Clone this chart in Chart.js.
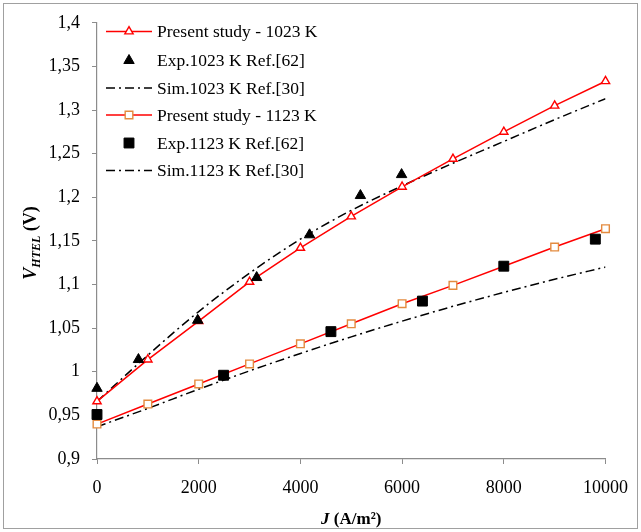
<!DOCTYPE html>
<html>
<head>
<meta charset="utf-8">
<script src="https://cdn.jsdelivr.net/npm/chart.js@4.4.0/dist/chart.umd.min.js"></script>
<style>
  html, body { margin: 0; padding: 0; background: #fff; }
  canvas { display: block; }
</style>
</head>
<body>
<canvas id="vChart" width="641" height="532"></canvas>
<script>
// current density (A/m²) of the model points
const jModel = [0, 1000, 2000, 3000, 4000, 5000, 6000, 7000, 8000, 9000, 10000];

// 1023 K
const vPresent1023 = [0.966, 1.014, 1.058, 1.103, 1.142, 1.178, 1.212, 1.244, 1.275, 1.305, 1.333];
const jExp1023 = [0, 815, 1980, 3140, 4180, 5180, 5990];
const vExp1023 = [0.981, 1.014, 1.059, 1.108, 1.157, 1.202, 1.226];
const vSim1023 = [0.966, 1.019, 1.069, 1.113, 1.152, 1.185, 1.213, 1.239, 1.264, 1.289, 1.313];

// 1123 K
const vPresent1123 = [0.940, 0.963, 0.986, 1.009, 1.032, 1.055, 1.078, 1.099, 1.121, 1.143, 1.164];
const jExp1123 = [0, 2490, 4600, 6400, 8000, 9800];
const vExp1123 = [0.951, 0.996, 1.046, 1.081, 1.121, 1.152];
const vSim1123 = [0.937, 0.958, 0.980, 1.001, 1.021, 1.040, 1.058, 1.075, 1.091, 1.106, 1.120];

const legendLabels = [
  'Present study - 1023 K',
  'Exp.1023 K Ref.[62]',
  'Sim.1023 K Ref.[30]',
  'Present study - 1123 K',
  'Exp.1123 K Ref.[62]',
  'Sim.1123 K Ref.[30]'
];

const SERIF = '"Liberation Serif", "Times New Roman", serif';
const ORANGE = '#E38B3F';
const DASHDOT = [9, 4, 2, 4];

function pts(xs, ys) {
  return xs.map((x, i) => ({ x: x, y: ys[i] }));
}

const datasets = [
  {
    label: legendLabels[0], data: pts(jModel, vPresent1023), showLine: true, order: 1,
    borderColor: '#ff0000', borderWidth: 1.5, clip: false,
    pointStyle: 'triangle', pointRadius: 4.8, pointBorderColor: '#ff0000',
    pointBackgroundColor: '#ffffff', pointBorderWidth: 1.4
  },
  {
    label: legendLabels[1], data: pts(jExp1023, vExp1023), showLine: false, order: 0, clip: false,
    pointStyle: 'triangle', pointRadius: 6, pointBorderColor: '#000',
    pointBackgroundColor: '#000', pointBorderWidth: 1
  },
  {
    label: legendLabels[2], data: pts(jModel, vSim1023), showLine: true, order: 2,
    borderColor: '#000', borderWidth: 1.5, borderDash: DASHDOT,
    cubicInterpolationMode: 'monotone', pointRadius: 0
  },
  {
    label: legendLabels[3], data: pts(jModel, vPresent1123), showLine: true, order: 1,
    borderColor: '#ff0000', borderWidth: 1.5, clip: false,
    pointStyle: 'rect', pointRadius: 5.4, pointBorderColor: ORANGE,
    pointBackgroundColor: '#ffffff', pointBorderWidth: 1.4
  },
  {
    label: legendLabels[4], data: pts(jExp1123, vExp1123), showLine: false, order: 0, clip: false,
    pointStyle: 'rect', pointRadius: 7, pointBorderColor: '#000',
    pointBackgroundColor: '#000', pointBorderWidth: 1
  },
  {
    label: legendLabels[5], data: pts(jModel, vSim1123), showLine: true, order: 2,
    borderColor: '#000', borderWidth: 1.5, borderDash: DASHDOT,
    cubicInterpolationMode: 'monotone', pointRadius: 0
  }
];

function drawRuns(ctx, runs, cx, cy) {
  let total = 0;
  runs.forEach(r => { ctx.font = r.font; total += ctx.measureText(r.text).width; });
  let x = cx - total / 2;
  runs.forEach(r => {
    ctx.font = r.font;
    ctx.fillText(r.text, x, cy + (r.dy || 0));
    x += ctx.measureText(r.text).width;
  });
}

const decorations = {
  id: 'decorations',
  beforeDraw(chart) {
    const ctx = chart.ctx;
    ctx.save();
    ctx.fillStyle = '#fff';
    ctx.fillRect(0, 0, chart.width, chart.height);
    ctx.restore();
  },
  afterDraw(chart) {
    const ctx = chart.ctx;
    const area = chart.chartArea;
    ctx.save();
    ctx.fillStyle = '#000';
    ctx.textAlign = 'left';
    ctx.textBaseline = 'alphabetic';

    // y title, rotated
    ctx.save();
    ctx.translate(36, (area.top + area.bottom) / 2 + 2);
    ctx.rotate(-Math.PI / 2);
    drawRuns(ctx, [
      { text: 'V', font: 'italic bold 18px ' + SERIF },
      { text: 'HTEL', font: 'italic bold 12px ' + SERIF, dy: 4 },
      { text: ' (V)', font: 'bold 18px ' + SERIF }
    ], 0, 0);
    ctx.restore();

    // x title
    drawRuns(ctx, [
      { text: 'J', font: 'italic bold 17px ' + SERIF },
      { text: ' (A/m²)', font: 'bold 17px ' + SERIF }
    ], (area.left + area.right) / 2, 524);

    // legend
    const rowY = [31.5, 60.5, 88, 115, 143, 170.5];
    const x0 = 106, x1 = 152, xm = 129, xt = 157;
    datasets.forEach((ds, i) => {
      const y = rowY[i];
      if (ds.showLine) {
        ctx.save();
        ctx.strokeStyle = ds.borderColor;
        ctx.lineWidth = ds.borderWidth;
        ctx.setLineDash(ds.borderDash || []);
        ctx.beginPath();
        ctx.moveTo(x0, y);
        ctx.lineTo(x1, y);
        ctx.stroke();
        ctx.restore();
      }
      if (ds.pointRadius > 0) {
        ctx.save();
        ctx.strokeStyle = ds.pointBorderColor;
        ctx.fillStyle = ds.pointBackgroundColor;
        ctx.lineWidth = ds.pointBorderWidth;
        Chart.helpers.drawPoint(ctx, {
          pointStyle: ds.pointStyle, radius: ds.pointRadius, rotation: 0,
          borderWidth: ds.pointBorderWidth
        }, xm, y);
        ctx.restore();
      }
      ctx.font = '17.5px ' + SERIF;
      ctx.textBaseline = 'middle';
      ctx.fillStyle = '#000';
      ctx.fillText(ds.label, xt, y + 1);
    });

    // outer frame
    ctx.strokeStyle = '#a0a0a0';
    ctx.lineWidth = 1;
    ctx.strokeRect(3.5, 3.5, 634, 525);
    ctx.restore();
  }
};

const tickFont = { family: SERIF, size: 18 };

new Chart(document.getElementById('vChart'), {
  type: 'scatter',
  data: { datasets: datasets },
  options: {
    responsive: false,
    animation: false,
    layout: { padding: { top: 19, right: 35, bottom: 0, left: 0 } },
    plugins: {
      legend: { display: false },
      tooltip: { enabled: false }
    },
    scales: {
      x: {
        type: 'linear', min: 0, max: 10000,
        ticks: {
          stepSize: 2000, color: '#000', font: tickFont, padding: 13, maxRotation: 0,
          callback: v => String(v)
        },
        grid: { drawOnChartArea: false, drawTicks: true, tickLength: 5, color: '#8c8c8c' },
        border: { display: true, color: '#8c8c8c', width: 1.2 },
        afterFit(scale) { scale.height = 73; }
      },
      y: {
        type: 'linear', min: 0.9, max: 1.4,
        ticks: {
          stepSize: 0.05, color: '#000', font: tickFont, padding: 12,
          callback: v => String(Math.round(v * 100) / 100).replace('.', ',')
        },
        grid: { drawOnChartArea: false, drawTicks: true, tickLength: 5, color: '#8c8c8c' },
        border: { display: true, color: '#8c8c8c', width: 1.2 },
        afterFit(scale) { scale.width = 97; }
      }
    }
  },
  plugins: [decorations]
});
</script>
</body>
</html>
